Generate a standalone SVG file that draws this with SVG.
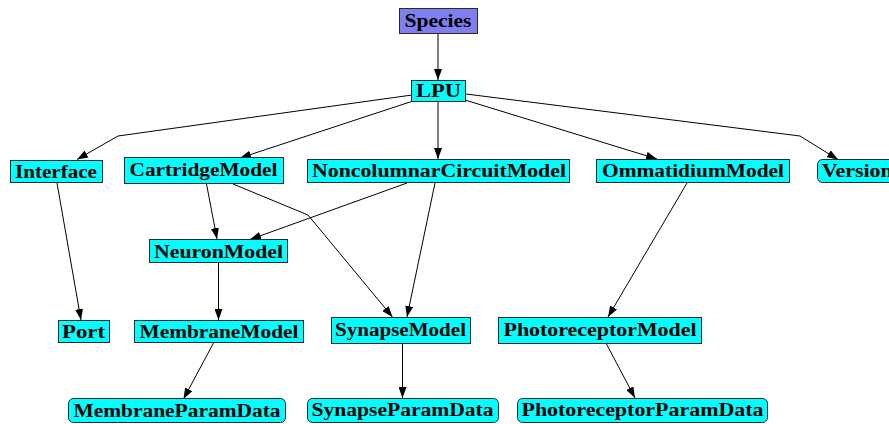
<svg xmlns="http://www.w3.org/2000/svg" width="889" height="424" viewBox="0 0 889 424">
<defs>
<style>
.n rect{fill:#00ffff;stroke:#2a2a2a;stroke-width:1}
.sp rect{fill:#7f7ff0}
text{font-family:"Liberation Serif","Times New Roman",serif;font-weight:bold;font-size:19px;fill:#000;text-anchor:middle}
.e path{fill:none;stroke:#000;stroke-width:1;stroke-linejoin:round;marker-end:url(#ah)}
</style>
<marker id="ah" viewBox="0 0 11 8" refX="11" refY="4" markerWidth="11" markerHeight="8" orient="auto" markerUnits="userSpaceOnUse">
<path d="M0,0 L11,4 L0,8 z" fill="#000"/>
</marker>
</defs>
<g id="edges" class="e">
<path d="M438,34 L438,80"/>
<path d="M412,95 L118,136 L77,159.5"/>
<path d="M413,101 L240,158"/>
<path d="M438,102 L438,159"/>
<path d="M465,100 L657,159"/>
<path d="M466,94 L800,136 L838,159.5"/>
<path d="M57,183 L81,320"/>
<path d="M206.5,184 L217,239"/>
<path d="M233,184 L308,215 L392.5,317"/>
<path d="M407,183 L250,239.5"/>
<path d="M435,183 L407,317"/>
<path d="M218.5,263 L218.5,320"/>
<path d="M213.5,343 L183.5,399"/>
<path d="M402.5,344 L402.5,398"/>
<path d="M687,183 L608,317"/>
<path d="M606.5,344 L635,398"/>
</g>
<g id="Species" class="n sp"><rect x="399.5" y="8.5" width="78" height="25"/><text x="438" y="27" textLength="67" lengthAdjust="spacingAndGlyphs">Species</text></g>
<g id="LPU" class="n"><rect x="411.5" y="80.5" width="54" height="21"/><text x="438.5" y="97" textLength="45" lengthAdjust="spacingAndGlyphs">LPU</text></g>
<g id="Interface" class="n"><rect x="10.5" y="160.5" width="92" height="22"/><text x="56" y="177.5" textLength="82" lengthAdjust="spacingAndGlyphs">Interface</text></g>
<g id="CartridgeModel" class="n"><rect x="124.5" y="157.5" width="159" height="26"/><text x="203.5" y="176" textLength="148" lengthAdjust="spacingAndGlyphs">CartridgeModel</text></g>
<g id="NoncolumnarCircuitModel" class="n"><rect x="307.5" y="159.5" width="262" height="23"/><text x="439" y="177" textLength="254" lengthAdjust="spacingAndGlyphs">NoncolumnarCircuitModel</text></g>
<g id="OmmatidiumModel" class="n"><rect x="596.5" y="159.5" width="193" height="23"/><text x="693" y="177" textLength="182" lengthAdjust="spacingAndGlyphs">OmmatidiumModel</text></g>
<g id="Version" class="n"><rect x="817.5" y="159.5" width="80" height="23" rx="5"/><text x="821.7" y="177" textLength="71" lengthAdjust="spacingAndGlyphs" style="text-anchor:start">Version</text></g>
<g id="NeuronModel" class="n"><rect x="149.5" y="239.5" width="138" height="23"/><text x="218.5" y="258" textLength="129" lengthAdjust="spacingAndGlyphs">NeuronModel</text></g>
<g id="Port" class="n"><rect x="58.5" y="320.5" width="51" height="22"/><text x="83.5" y="338" textLength="43" lengthAdjust="spacingAndGlyphs">Port</text></g>
<g id="MembraneModel" class="n"><rect x="134.5" y="320.5" width="169" height="22"/><text x="219" y="338" textLength="159" lengthAdjust="spacingAndGlyphs">MembraneModel</text></g>
<g id="SynapseModel" class="n"><rect x="331.5" y="317.5" width="139" height="26"/><text x="400.5" y="336" textLength="131" lengthAdjust="spacingAndGlyphs">SynapseModel</text></g>
<g id="PhotoreceptorModel" class="n"><rect x="498.5" y="317.5" width="203" height="26"/><text x="600" y="336" textLength="193" lengthAdjust="spacingAndGlyphs">PhotoreceptorModel</text></g>
<g id="MembraneParamData" class="n"><rect x="68.5" y="398.5" width="217" height="24" rx="5"/><text x="177" y="417" textLength="207" lengthAdjust="spacingAndGlyphs">MembraneParamData</text></g>
<g id="SynapseParamData" class="n"><rect x="307.5" y="398.5" width="191" height="24" rx="5"/><text x="402.5" y="416" textLength="182" lengthAdjust="spacingAndGlyphs">SynapseParamData</text></g>
<g id="PhotoreceptorParamData" class="n"><rect x="517.5" y="398.5" width="250" height="24" rx="5"/><text x="642.5" y="416" textLength="242" lengthAdjust="spacingAndGlyphs">PhotoreceptorParamData</text></g>
</svg>
